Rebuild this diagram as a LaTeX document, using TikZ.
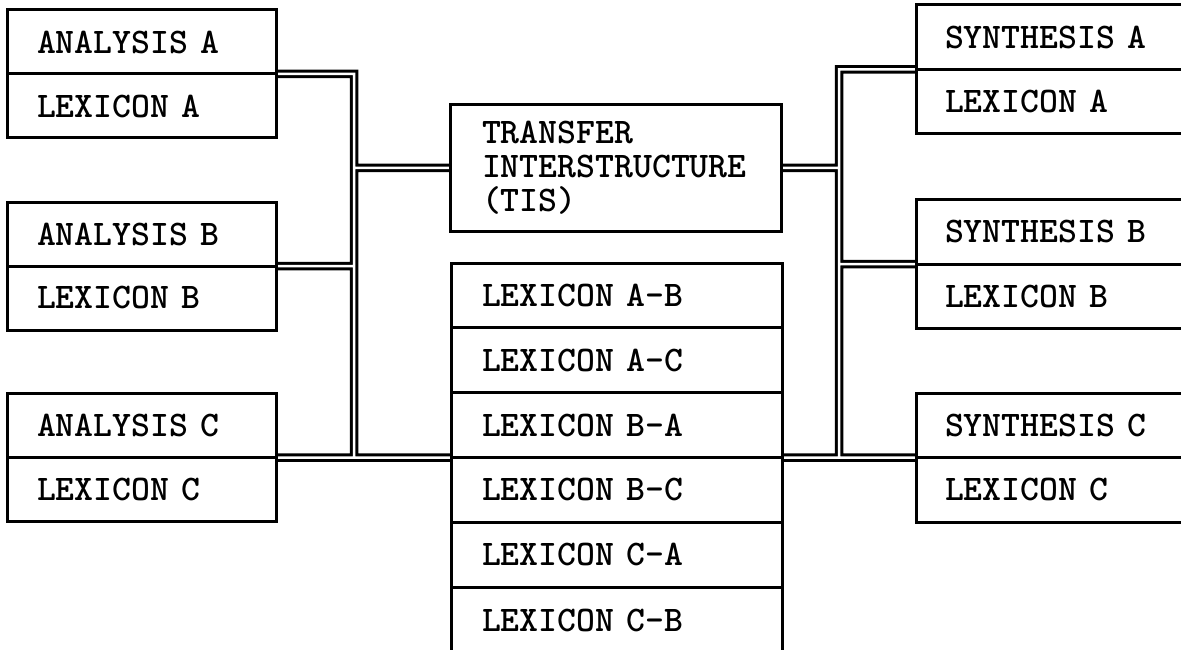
\documentclass[tikz,border=0pt]{standalone}
\usetikzlibrary{backgrounds}
\newcommand\bxfont{\ttfamily\bfseries\fontsize{36}{34}\selectfont}
\tikzset{
  box/.style={draw, line width=3pt, outer sep=0pt, anchor=north west, inner ysep=0pt, align=left, font=\bxfont},
  sidebox/.style={box, minimum height=64pt, inner xsep=30pt, text width=209pt},
  rightbox/.style={box, minimum height=64.5pt, inner xsep=29pt, text width=242pt},
  stackbox/.style={box, minimum height=64.83pt, inner xsep=31pt, text width=269pt},
  pipe/.style={double, line width=3pt, double distance=2.5pt, line join=miter}
}
\begin{document}
\begin{tikzpicture}[x=1pt, y=-1pt]
\useasboundingbox (0,0) rectangle (1181,650);
% left boxes
\node[sidebox] (anA) at (7,10) {ANALYSIS A};
\node[sidebox] (lxA) at (7,74) {LEXICON A};
\node[sidebox] (anB) at (7,202) {ANALYSIS B};
\node[sidebox] (lxB) at (7,266) {LEXICON B};
\node[sidebox] (anC) at (7,393.5) {ANALYSIS C};
\node[sidebox] (lxC) at (7,457.5) {LEXICON C};
% transfer
\node[box, minimum height=126pt, inner xsep=32pt, text width=267pt] (tis) at (450,105) {TRANSFER\\INTERSTRUCTURE\\(TIS)};
% lexicon stack
\node[stackbox] (sAB) at (451,263) {LEXICON A-B};
\node[stackbox] (sAC) at (451,327.83) {LEXICON A-C};
\node[stackbox] (sBA) at (451,392.67) {LEXICON B-A};
\node[stackbox] (sBC) at (451,457.5) {LEXICON B-C};
\node[stackbox] (sCA) at (451,522.33) {LEXICON C-A};
\node[stackbox, minimum height=66pt] (sCB) at (451,587.17) {LEXICON C-B};
% right boxes
\node[rightbox] (syA) at (916,5) {SYNTHESIS A};
\node[rightbox] (rxA) at (916,69.5) {LEXICON A};
\node[rightbox] (syB) at (916,199.5) {SYNTHESIS B};
\node[rightbox] (rxB) at (916,264) {LEXICON B};
\node[rightbox] (syC) at (916,393) {SYNTHESIS C};
\node[rightbox] (rxC) at (916,457.5) {LEXICON C};
% bus points
\path (anA.south east) ++(78,0) coordinate (LT);
\path (LT |- anC.south east) coordinate (LB);
\path (syA.south west) ++(-77,0) coordinate (RT);
\path (RT |- syC.south west) coordinate (RB);
\begin{pgfonlayer}{background}
\draw[pipe] (anA.south east) -- (LT) -- (LB)
  (anB.south east) -- (anB.south east -| LT)
  (tis.west) -- (tis.west -| LT)
  (anC.south east) -- (sBA.south west)
  (syA.south west) -- (RT) -- (RB)
  (syB.south west) -- (syB.south west -| RT)
  (tis.east) -- (tis.east -| RT)
  (sBA.south east) -- (syC.south west);
\end{pgfonlayer}
\end{tikzpicture}
\end{document}
